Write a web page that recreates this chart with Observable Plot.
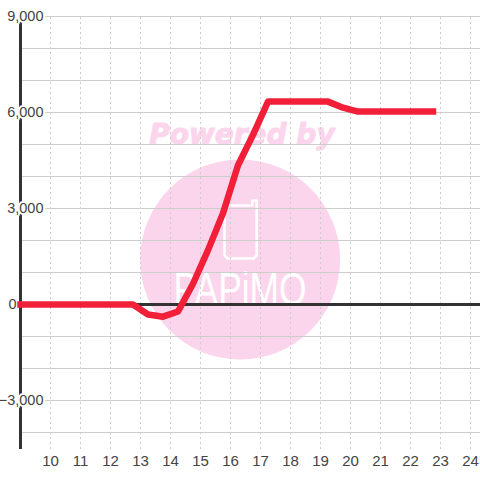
<!DOCTYPE html>
<html><head><meta charset="utf-8">
<script src="https://cdn.jsdelivr.net/npm/d3@7"></script>
<script src="https://cdn.jsdelivr.net/npm/@observablehq/plot@0.6"></script>
<style>html,body{margin:0;padding:0;background:#fff}svg{display:block}</style>
</head><body><div id="c"></div>
<script>
const hours = [9,12.75,13.25,13.75,14.25,14.75,15.25,15.75,16.25,16.75,17.25,19.25,19.75,20.25,22.75];
const values = [0,0,-310,-380,-220,650,1700,2850,4350,5300,6340,6340,6150,6030,6030];
const xTicks = [10,11,12,13,14,15,16,17,18,19,20,21,22,23,24];
const yGrid = [-4000,-3000,-2000,-1000,1000,2000,3000,4000,5000,6000,7000,8000,9000];
const yLabels = [-3000,3000,6000,9000];
const zeroLabel = [0];
const series = hours.map((h,i)=>({h,v:values[i]}));
const logoCenter = [{x:16.32,y:1406}];
const phoneX = [15.8,16.67,16.73,16.73,16.87,16.87,16.77,15.9,15.8,15.8];
const phoneY = [3094,3094,3094,3250,3250,1531,1438,1438,1531,3094];
const phone = phoneX.map((x,i)=>({x,y:phoneY[i]}));
const poweredBy = [{x:16.38,y:5290,t:"Powered by"}];
const logoText = [{x:16.32,y:437,t:"PAPiMO"}];
const fmt = d3.format(",");
const plot = Plot.plot({
  width:480,height:480,marginLeft:20,marginRight:0,marginTop:16,marginBottom:31,
  style:{background:"#fff",fontFamily:"'Liberation Sans'",overflow:"visible"},
  x:{domain:[9,24.333],axis:null},
  y:{domain:[-4531,9000],axis:null},
  marks:[
    Plot.dot(logoCenter,{x:"x",y:"y",r:100,fill:"#fbd5ec",stroke:"none"}),
    Plot.text(poweredBy,{x:"x",y:"y",text:"t",fill:"#fbd5ec",stroke:"#fbd5ec",strokeWidth:1,fontFamily:"'DejaVu Sans'",fontWeight:"bold",fontStyle:"italic",fontSize:28}),
    Plot.line(phone,{x:"x",y:"y",stroke:"#fff",strokeWidth:2.5,curve:"linear",strokeLinejoin:"round"}),
    Plot.text(logoText,{x:"x",y:"y",text:"t",fill:"#fff",fontSize:46,className:"logo"}),
    Plot.ruleX(xTicks,{y1:-4531,y2:9000,stroke:"#cccccc",strokeWidth:1,strokeDasharray:"2,3"}),
    Plot.ruleY(yGrid,{x1:9,x2:24.333,stroke:"#cccecc",strokeWidth:1}),
    Plot.ruleX([9],{y1:-4531,y2:9000,stroke:"#333",strokeWidth:3}),
    Plot.ruleY([0],{x1:9,x2:24.333,stroke:"#333",strokeWidth:3}),
    Plot.text(yLabels,{x:()=>9,y:d=>d,text:d=>fmt(d),textAnchor:"end",dx:23,fill:"#444",fontSize:14.5,stroke:"#fff",strokeWidth:4}),
    Plot.text(zeroLabel,{x:()=>9,y:d=>d,text:d=>fmt(d),textAnchor:"end",dx:-4,fill:"#444",fontSize:14.5}),
    Plot.text(xTicks,{x:d=>d,y:()=>-4531,text:d=>String(d),dy:12,fill:"#444",fontSize:15}),
    Plot.line(series,{x:"h",y:"v",stroke:"#f21f38",strokeWidth:6.5,curve:"linear",strokeLinejoin:"round",strokeLinecap:"square"})
  ]
});
d3.select(plot).selectAll(".logo text").attr("textLength",133).attr("lengthAdjust","spacingAndGlyphs");
document.getElementById("c").append(plot);
</script></body></html>
